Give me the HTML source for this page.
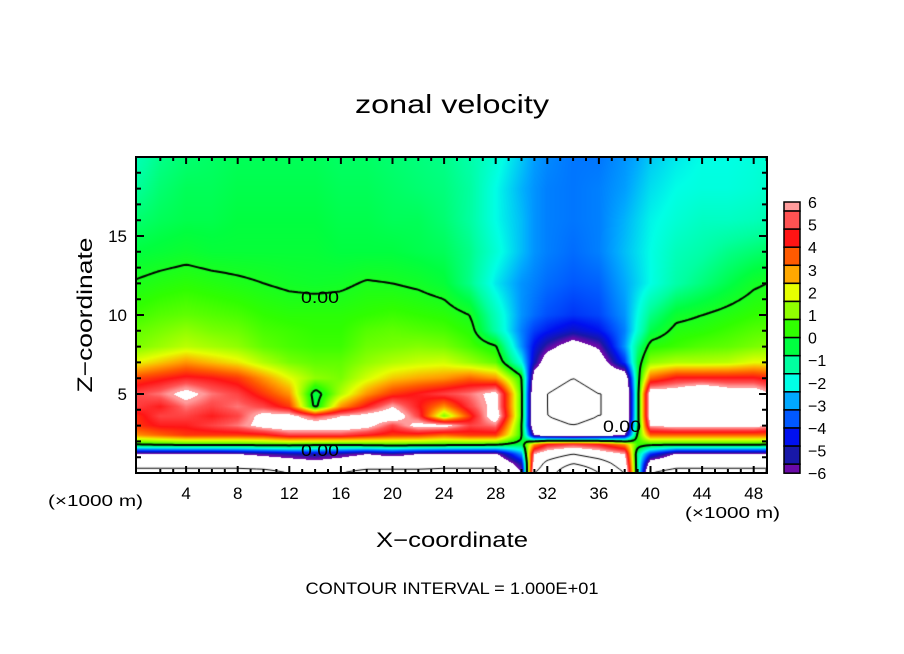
<!DOCTYPE html>
<html><head><meta charset="utf-8">
<style>
body{margin:0;background:#fff;width:904px;height:654px;overflow:hidden;position:relative;font-family:"Liberation Sans","DejaVu Sans",sans-serif}
#field{position:absolute;left:136px;top:157px}
svg{position:absolute;left:0;top:0}
</style></head><body>
<canvas id="field" width="631" height="316"></canvas>
<svg id="ov" width="904" height="654"></svg>
<script>
// ---- data ----
const xCols = [0,2,4,6,8,10,12,14,16,18,20,22,24,26,28,30,31,32,34,36,38,39,40,42,44,46,48,50];
const zLevels = [20,18,16,14,12,10,9,8,7,6,5,4.2,3.6,3,2.4,1.8,1.2,0.6,0];
const uRows = [
[-1.5,-1.0,-0.8,-0.7,-0.6,-0.6,-0.6,-0.6,-0.7,-0.7,-0.8,-0.9,-1.0,-1.3,-1.8,-2.5,-2.9,-3.1,-3.3,-3.3,-3.0,-2.8,-2.5,-2.2,-2.0,-2.0,-1.9,-1.7],
[-1.2,-0.8,-0.6,-0.6,-0.5,-0.5,-0.5,-0.5,-0.6,-0.6,-0.7,-0.8,-0.9,-1.2,-2.0,-2.7,-3.0,-3.2,-3.3,-3.2,-2.9,-2.6,-2.3,-2.0,-1.9,-1.9,-1.8,-1.6],
[-0.8,-0.6,-0.5,-0.5,-0.4,-0.4,-0.4,-0.4,-0.5,-0.5,-0.6,-0.6,-0.8,-1.2,-2.0,-2.6,-3.0,-3.2,-3.3,-3.2,-2.7,-2.4,-2.1,-1.8,-1.6,-1.6,-1.5,-1.3],
[-0.4,-0.3,-0.2,-0.3,-0.3,-0.3,-0.3,-0.3,-0.4,-0.4,-0.4,-0.5,-0.6,-1.0,-1.8,-2.6,-3.0,-3.2,-3.4,-3.2,-2.6,-2.3,-2.0,-1.5,-1.3,-1.0,-0.8,-0.6],
[0.05,0.2,0.3,0.2,0.1,0.0,-0.1,-0.15,-0.1,0.05,0.0,-0.1,-0.3,-1.0,-2.2,-3.0,-3.2,-3.4,-3.6,-3.5,-2.8,-2.4,-2.0,-1.3,-0.9,-0.5,-0.1,0.1],
[0.5,0.7,0.8,0.7,0.6,0.4,0.3,0.3,0.3,0.4,0.5,0.4,0.3,0.0,-1.5,-3.0,-3.4,-3.7,-4.0,-3.8,-3.0,-2.0,-1.0,-0.2,0.0,0.2,0.4,0.5],
[0.8,1.0,1.2,1.0,0.9,0.6,0.5,0.4,0.4,0.7,0.8,0.7,0.6,0.3,-1.3,-3.2,-3.9,-4.3,-4.9,-4.4,-3.2,-1.8,-0.5,0.2,0.3,0.5,0.7,0.8],
[1.0,1.3,1.6,1.4,1.2,0.8,0.6,0.5,0.5,0.9,1.0,1.1,1.0,0.6,0.1,-3,-4.5,-5.5,-6.8,-5.8,-3.0,-1.0,0.3,0.5,0.7,0.8,1.0,1.2],
[2.0,2.5,3.0,2.6,2.2,1.5,1.0,0.8,0.8,1.2,1.5,1.7,1.8,1.3,0.8,-2,-5,-7,-8,-7,-4,-0.5,1.2,1.5,1.5,1.6,2.0,2.0],
[3.8,4.2,4.6,4.4,4.0,3.0,2.0,1.2,1.0,1.8,2.5,2.8,3.0,3.5,3.0,0.3,-7,-8,-9,-8,-7.5,-0.5,3.5,4.5,4.5,4.5,4.5,4.0],
[5.0,5.5,6.5,5.5,5.0,4.0,3.0,-0.5,1.5,3.0,4.0,4.5,5.0,5.5,6.5,0.5,-8,-9,-10,-9,-9,-0.5,7,7,8,7,7,5.5],
[5.0,4.5,5.5,5.0,5.5,5.0,4.0,-0.3,3.0,4.5,6.0,4.5,3.0,5.0,6.5,0.5,-8,-9,-10,-9,-9,-0.5,7,7.5,7.5,7.5,7,6],
[4.0,5.0,5.0,4.5,5.0,6.5,6.5,5.0,6.0,6.5,7.0,5.0,1.0,4.0,7.0,0.5,-8,-9,-9.5,-9,-9,-0.5,7,7.5,7.5,7.5,7,6],
[4.0,4.5,4.5,5.0,5.5,6.5,7.0,7.0,7.0,6.5,5.0,6.5,6.5,5.0,5.5,0.3,-8,-8.5,-9,-8.5,-8,-0.5,6,6.5,6.5,6.5,6.5,5.5],
[3.0,3.5,4.0,4.0,4.0,4.2,5.0,5.0,5.0,4.5,4.0,4.0,3.5,4.0,4.0,0.3,-6,-7,-7.5,-7,-6,0.3,3.5,3.5,3.5,3.5,3.5,3.5],
[0.0,0.2,0.3,0.3,0.3,0.4,0.5,0.3,0.2,0.4,0.6,0.5,0.4,0.3,0.2,-0.5,3,4.5,5,4.5,3,0.5,0.2,0.2,0.2,0.2,0.2,0.0],
[-6.2,-6.2,-6.2,-6.2,-6,-5.6,-5.2,-5,-5.4,-6,-5.5,-6,-6.2,-6.2,-6.2,-3,6,7,8,7,6,-1,-4,-6.2,-6.2,-6.2,-6.2,-6.2],
[-8,-8,-8,-8,-8,-7.5,-7,-6.5,-7,-7.5,-7.5,-7.5,-8,-8,-8,-5,7,8.5,10,9,7,-1,-7,-8,-8,-8,-8,-8],
[-10,-10,-10,-10,-10,-10,-9,-9,-9,-10,-10,-10,-10,-10,-10,-6,8,9,12,10,8,-1,-9,-10,-10,-10,-10,-10]
];
const cbLevels = [6,5.6,4.8,4.0,3.2,2.4,1.6,0.8,0,-0.8,-1.6,-2.4,-3.2,-4.0,-4.8,-5.6,-6];
const cbColors = ["#ff9c9c","#ff5252","#ff1414","#ff5a00","#ffa800","#e6ff00","#90ff00","#30ff00","#00ff40","#00ffa0","#00ffe6","#00a8ff","#0058ff","#0010f0","#1818a8","#6a0aa8"];
const xTicks = [4,8,12,16,20,24,28,32,36,40,44,48];
const yTicks = [5,10,15];
const cbTicks = [6,5,4,3,2,1,0,-1,-2,-3,-4,-5,-6];

// ---- scales ----
const X0=136,X1=767,Y0=157,Y1=473;
const xs = x => 134.5 + 12.9*x;
const zs = z => 473 - 15.8*z;
const xinv = p => (p-134.5)/12.9;
const zinv = p => (473-p)/15.8;

function sample(x,z){
  x=Math.max(0,Math.min(50,x)); z=Math.max(0,Math.min(20,z));
  let i=0; while(i<xCols.length-2 && x>xCols[i+1]) i++;
  let tx=(x-xCols[i])/(xCols[i+1]-xCols[i]);
  let j=0; while(j<zLevels.length-2 && z<zLevels[j+1]) j++;
  let tz=(zLevels[j]-z)/(zLevels[j]-zLevels[j+1]);
  const a=uRows[j][i],b=uRows[j][i+1],c=uRows[j+1][i],d=uRows[j+1][i+1];
  return (a*(1-tx)+b*tx)*(1-tz)+(c*(1-tx)+d*tx)*tz;
}
function hex(h){return [parseInt(h.substr(1,2),16),parseInt(h.substr(3,2),16),parseInt(h.substr(5,2),16)];}
const stops = cbColors.map((c,k)=>({v:(cbLevels[k]+cbLevels[k+1])/2,c:hex(c)}));
function color(v){
  if(v>6||v<-6) return [255,255,255];
  if(v>=stops[0].v) return stops[0].c;
  for(let k=0;k<stops.length-1;k++){
    if(v<=stops[k].v && v>=stops[k+1].v){
      const t=(stops[k].v-v)/(stops[k].v-stops[k+1].v);
      const A=stops[k].c,B=stops[k+1].c;
      return [A[0]+(B[0]-A[0])*t,A[1]+(B[1]-A[1])*t,A[2]+(B[2]-A[2])*t];
    }
  }
  return stops[stops.length-1].c;
}
const cv=document.getElementById('field'),ctx=cv.getContext('2d');
const W=cv.width,H=cv.height,img=ctx.createImageData(W,H);
for(let py=0;py<H;py++)for(let px=0;px<W;px++){
  const v=sample(xinv(px+X0+0.5),zinv(py+Y0+0.5));const c=color(v);const o=(py*W+px)*4;
  img.data[o]=c[0];img.data[o+1]=c[1];img.data[o+2]=c[2];img.data[o+3]=255;
}
ctx.putImageData(img,0,0);
function contour(level,width,dash){
  const st=3;ctx.beginPath();ctx.lineWidth=width;ctx.strokeStyle='#000';ctx.setLineDash(dash);
  const f=(px,py)=>sample(xinv(px+X0),zinv(py+Y0))-level;
  for(let py=0;py<H;py+=st)for(let px=0;px<W;px+=st){
    const p=[[px,py],[px+st,py],[px+st,py+st],[px,py+st]];const v=p.map(q=>f(q[0],q[1]));
    const pts=[];
    for(let e=0;e<4;e++){const a=v[e],b=v[(e+1)%4];if((a<0)!==(b<0)){const t=a/(a-b);const A=p[e],B=p[(e+1)%4];pts.push([A[0]+(B[0]-A[0])*t,A[1]+(B[1]-A[1])*t]);}}
    for(let k=0;k+1<pts.length;k+=2){ctx.moveTo(pts[k][0],pts[k][1]);ctx.lineTo(pts[k+1][0],pts[k+1][1]);}
  }
  ctx.stroke();
}
contour(0,2,[]);contour(-9,1,[5,4]);contour(8,1,[]);contour(10,1,[]);

// ---- overlay ----
const NS='http://www.w3.org/2000/svg',svg=document.getElementById('ov');
function el(t,a,txt){const e=document.createElementNS(NS,t);for(const k in a)e.setAttribute(k,a[k]);if(txt!==undefined)e.textContent=txt;svg.appendChild(e);return e;}
let e;
e=el('rect',{x:X0,y:Y0,width:X1-X0,height:Y1-Y0,fill:'none',stroke:'#000','stroke-width':2});


for(let x=2;x<=49;x++){const p=xs(x),L=(x%4===0)?7:4;
  e=el('path',{d:`M${p},${Y1}v${-L}M${p},${Y0}v${L}`,stroke:'#000','stroke-width':2});
  
  }
for(let z=1;z<20;z++){const p=zs(z),L=(z%5===0)?8:5;
  e=el('path',{d:`M${X0},${p}h${L}M${X1},${p}h${-L}`,stroke:'#000','stroke-width':2});
  
  }
xTicks.forEach(t=>{e=el('text',{x:xs(t),y:499,'text-anchor':'middle','font-size':17},String(t));
  
  });
yTicks.forEach(t=>{e=el('text',{x:127,y:zs(t)+6,'text-anchor':'end','font-size':17},String(t));
  
  });
const cbS=v=>202+(6-v)*22.6;
cbColors.forEach((c,k)=>{e=el('rect',{x:784,y:cbS(cbLevels[k]),width:16,height:cbS(cbLevels[k+1])-cbS(cbLevels[k]),fill:c,stroke:'#000','stroke-width':1.5});
  
  });
cbTicks.forEach(t=>{e=el('text',{x:808,y:cbS(t)+6,'font-size':16},(t<0?'\u2212':'')+Math.abs(t));
  
  });
const labs=[["0.00",320,303],["0.00",320,456],["0.00",622,432]];
labs.forEach(l=>{e=el('text',{x:l[1],y:l[2],'text-anchor':'middle','font-size':17,textLength:38,lengthAdjust:'spacingAndGlyphs'},l[0]);
  
  });
e=el('text',{x:452,y:113,'text-anchor':'middle','font-size':26,textLength:194,lengthAdjust:'spacingAndGlyphs'},'zonal velocity');


e=el('text',{x:452,y:547,'text-anchor':'middle','font-size':21,textLength:152,lengthAdjust:'spacingAndGlyphs'},'X\u2212coordinate');


e=el('text',{x:0,y:0,'text-anchor':'middle','font-size':21,textLength:155,lengthAdjust:'spacingAndGlyphs',transform:'translate(92,315) rotate(-90)'},'Z\u2212coordinate');


e=el('text',{x:48,y:506,'font-size':16,textLength:95,lengthAdjust:'spacingAndGlyphs'},'(\u00d71000 m)');


e=el('text',{x:685,y:518,'font-size':16,textLength:95,lengthAdjust:'spacingAndGlyphs'},'(\u00d71000 m)');


e=el('text',{x:452,y:594,'text-anchor':'middle','font-size':17,textLength:293,lengthAdjust:'spacingAndGlyphs'},'CONTOUR INTERVAL = 1.000E+01');


</script>
</body></html>
